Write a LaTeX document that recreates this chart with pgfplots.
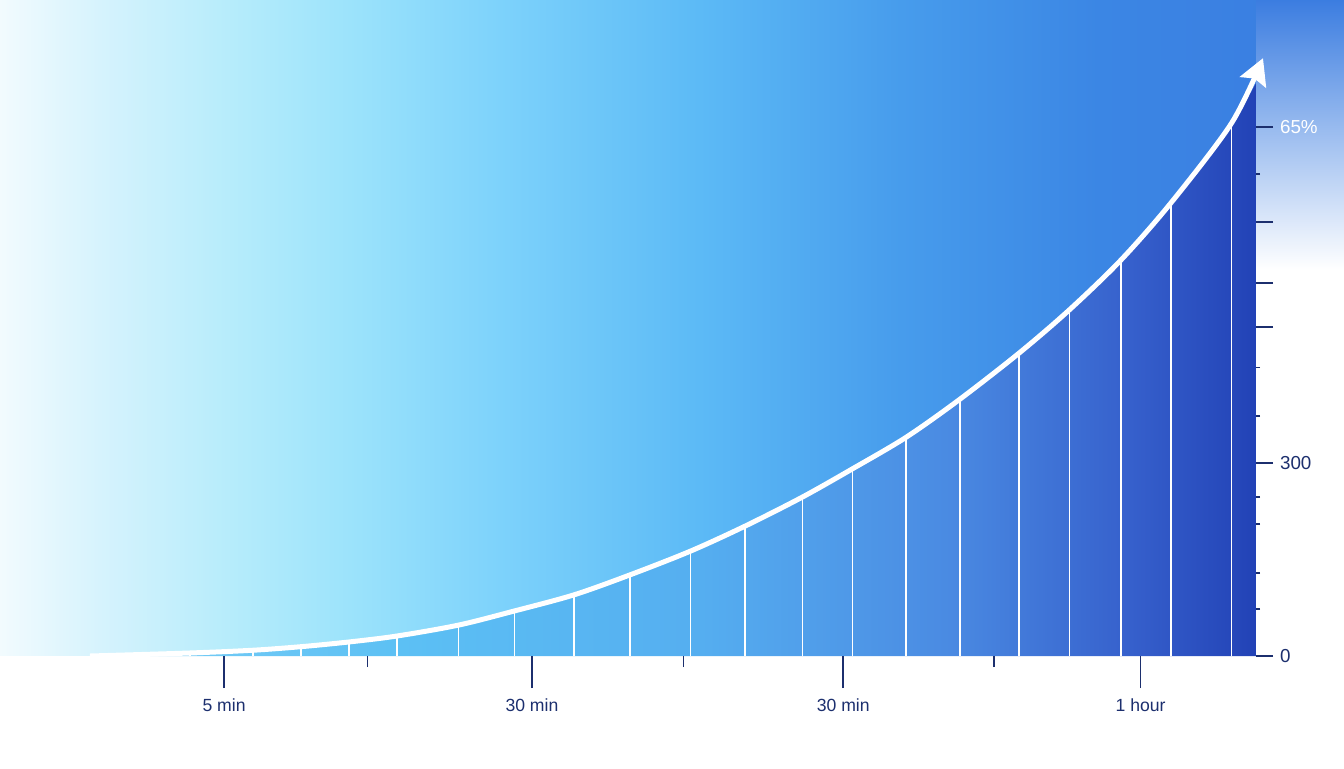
\documentclass[border=0pt]{standalone}
\usepackage{fontspec}
\setmainfont{Liberation Sans}
\usepackage{pgfplots}
\pgfplotsset{compat=1.18}
\usetikzlibrary{arrows.meta}

\definecolor{navy}{HTML}{1C2F6E}
% background, left to right
\definecolor{bg0}{HTML}{F2FBFE}
\definecolor{bg1}{HTML}{D6F3FD}
\definecolor{bg2}{HTML}{B6ECFB}
\definecolor{bg3}{HTML}{9CE3FB}
\definecolor{bg4}{HTML}{7DD2FB}
\definecolor{bg5}{HTML}{5CBAF6}
\definecolor{bg6}{HTML}{479CEC}
\definecolor{bg7}{HTML}{3B86E4}
\definecolor{bg8}{HTML}{3A7CE0}
% area under the curve, left to right
\definecolor{ar1}{HTML}{7CCFF6}
\definecolor{ar2}{HTML}{5CC0F4}
\definecolor{ar3}{HTML}{55AEF0}
\definecolor{ar4}{HTML}{4A8AE2}
\definecolor{ar5}{HTML}{3660CC}
\definecolor{ar6}{HTML}{2242B6}

\pgfdeclarehorizontalshading{skyshade}{100bp}{color(0bp)=(bg0); color(25bp)=(bg0);
  color(28.7bp)=(bg1); color(33.6bp)=(bg2); color(38bp)=(bg3); color(43.6bp)=(bg4);
  color(51bp)=(bg5); color(58.5bp)=(bg6); color(65.9bp)=(bg7); color(75bp)=(bg8);
  color(100bp)=(bg8)}
\pgfdeclarehorizontalshading{areashade}{100bp}{color(0bp)=(ar1); color(25bp)=(ar1);
  color(38.3bp)=(ar2); color(51.2bp)=(ar3); color(61.9bp)=(ar4); color(69.6bp)=(ar5);
  color(75bp)=(ar6); color(100bp)=(ar6)}

\begin{document}
\begin{tikzpicture}
% background
\shade[shading=skyshade] (-45pt,0pt) rectangle (627pt,328pt);
\fill[white] (-46pt,-57pt) rectangle (628pt,0pt);
\shade[top color=bg8, bottom color=white] (583pt,193pt) rectangle (628pt,329pt);
\fill[white] (583pt,0pt) rectangle (628pt,193pt);

\begin{axis}[
    at={(0pt,0pt)}, anchor=south west,
    scale only axis, width=583pt, height=321.75pt,
    xmin=0, xmax=100, ymin=0, ymax=1000,
    clip=false,
    axis x line*=bottom, axis y line*=right,
    axis line style={draw=none},
    tick align=outside,
    major tick length=8.5pt, minor tick length=2pt,
    tick style={navy, line width=0.9pt},
    minor tick style={navy, line width=0.7pt},
    xtick=\empty,
    ytick={0,300,511,580,675,822},
    yticklabels={0,300,,,,\textcolor{white}{65\%}},
    minor ytick={73,129,205,247,373,448,749},
    yticklabel style={font=\fontsize{9.4}{11}\selectfont, text=navy},
]
% area under the curve
\addplot[draw=none, shade, shading=areashade, smooth] coordinates {
    (0,0) (8.6,4.7) (14.0,9) (18.1,14.5) (22.2,21.8) (26.3,31) (31.6,48)
    (36.4,70) (41.5,95) (46.3,126) (51.5,163) (56.2,202) (61.1,247)
    (65.4,291) (70.0,340) (74.6,399) (79.7,471) (84.0,538) (88.4,615)
    (92.7,704) (97.9,828) (100,890)
} \closedcycle;

% white separators
\addplot[ycomb, white, line width=0.9pt, mark=none] coordinates {
    (8.6,4.7) (14.0,9) (18.1,14.5) (22.2,21.8) (26.3,31) (31.6,48)
    (36.4,70) (41.5,95) (46.3,126) (51.5,163) (56.2,202) (61.1,247)
    (65.4,291) (70.0,340) (74.6,399) (79.7,471) (84.0,538) (88.4,615)
    (92.7,704) (97.9,828)
};

% growth curve
\addplot[white, line width=2.5pt, smooth, mark=none,
    -{Stealth[length=13pt, width=14pt, inset=2pt]}] coordinates {
    (0,0) (8.6,4.7) (14.0,9) (18.1,14.5) (22.2,21.8) (26.3,31) (31.6,48)
    (36.4,70) (41.5,95) (46.3,126) (51.5,163) (56.2,202) (61.1,247)
    (65.4,291) (70.0,340) (74.6,399) (79.7,471) (84.0,538) (88.4,615)
    (92.7,704) (97.9,828) (100.6,929)
};
\end{axis}

% x ticks, in their own axis for the longer tick length
\begin{axis}[
    at={(0pt,0pt)}, anchor=south west,
    scale only axis, width=583pt, height=321.75pt,
    xmin=0, xmax=100, ymin=0, ymax=1000,
    axis x line*=bottom, axis y line=none,
    axis line style={draw=none},
    tick align=outside,
    major tick length=16pt, minor tick length=5.5pt,
    tick style={navy, line width=0.9pt},
    minor tick style={navy, line width=0.9pt},
    ytick=\empty,
    xtick={11.5,37.9,64.6,90.1},
    xticklabels={5 min,30 min,30 min,1 hour},
    minor xtick={23.8,50.9,77.5},
    xticklabel style={font=\fontsize{8.8}{10}\selectfont, text=navy, yshift=-2pt},
]
\end{axis}

\pgfresetboundingbox
\useasboundingbox (-45pt,-56pt) rectangle (627pt,328pt);
\end{tikzpicture}
\end{document}
